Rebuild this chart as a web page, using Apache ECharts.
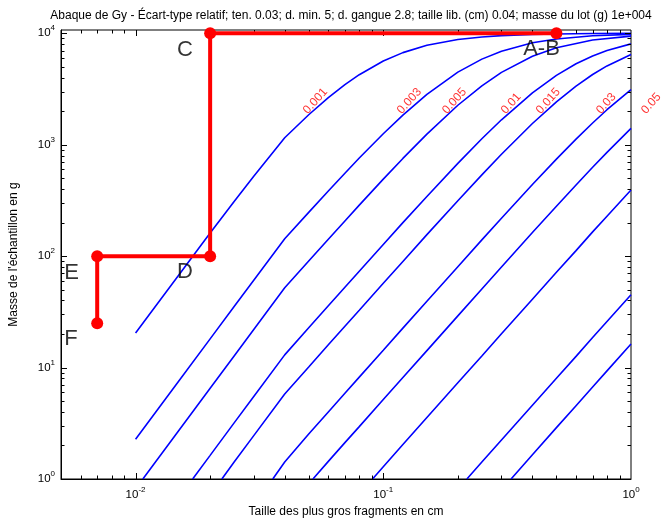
<!DOCTYPE html>
<html>
<head>
<meta charset="utf-8">
<script src="https://cdn.jsdelivr.net/npm/echarts@6/dist/echarts.min.js"></script>
<style>
html,body{margin:0;padding:0;background:#ffffff;}
#chart{width:670px;height:518px;}
</style>
</head>
<body>
<div id="chart"></div>
<script>
// ---------------- data ----------------
const chartTitle = 'Abaque de Gy - Écart-type relatif; ten. 0.03; d. min. 5; d. gangue 2.8; taille lib. (cm) 0.04; masse du lot (g) 1e+004';
const xAxisName = 'Taille des plus gros fragments en cm';
const yAxisName = "Masse de l'échantillon en g";

const sigmaLabels = ['0.001', '0.003', '0.005', '0.01', '0.015', '0.03', '0.05', '0.1', '0.3', '0.5'];

// each curve: [fragment size (cm), sample mass (g)]
const curve0001 = [[0.01,20.4],[0.015,68.4],[0.02,161],[0.025,309],[0.03,522],[0.04,1155],[0.05,1857],[0.06,2646],[0.07,3459],[0.08,4248],[0.1,5633],[0.12,6706],[0.15,7805],[0.2,8795],[0.25,9273],[0.3,9526],[0.4,9764],[0.5,9863],[0.7,9941],[1,9976]];
const curve0003 = [[0.01,2.27],[0.015,7.64],[0.02,18.1],[0.025,35.3],[0.03,60.8],[0.04,143],[0.05,247],[0.06,384],[0.07,555],[0.08,759],[0.1,1254],[0.12,1844],[0.15,2832],[0.2,4478],[0.25,5862],[0.3,6909],[0.4,8210],[0.5,8891],[0.7,9489],[1,9784]];
const curve0005 = [[0.0107,1],[0.015,2.75],[0.02,6.52],[0.025,12.7],[0.03,22.0],[0.04,52.0],[0.05,90.4],[0.06,142],[0.07,207],[0.08,287],[0.1,491],[0.12,753],[0.15,1245],[0.2,2260],[0.25,3377],[0.3,4458],[0.4,6229],[0.5,7426],[0.7,8700],[1,9423]];
const curve001  = [[0.017,1],[0.02,1.63],[0.025,3.19],[0.03,5.51],[0.04,13.0],[0.05,22.8],[0.06,35.9],[0.07,52.6],[0.08,73.3],[0.1,127],[0.12,200],[0.15,343],[0.2,680],[0.25,1131],[0.3,1674],[0.4,2922],[0.5,4190],[0.6,5322],[0.7,6258],[0.8,7002],[1,8031]];
const curve0015 = [[0.0223,1],[0.025,1.42],[0.03,2.45],[0.04,5.80],[0.05,10.1],[0.06,16.0],[0.07,23.5],[0.08,32.7],[0.1,57.0],[0.12,89.6],[0.15,156],[0.2,314],[0.25,536],[0.3,821],[0.4,1550],[0.5,2427],[0.6,3358],[0.7,4264],[0.8,5093],[1,6445]];
const curve003  = [[0.0358,1],[0.04,1.42],[0.05,2.53],[0.06,4.00],[0.07,5.88],[0.08,8.21],[0.1,14.3],[0.12,22.6],[0.15,39.4],[0.2,80.4],[0.25,140],[0.3,219],[0.4,439],[0.5,742],[0.6,1122],[0.7,1567],[0.8,2060],[1,3119]];
const curve005  = [[0.052,1],[0.06,1.44],[0.07,2.12],[0.08,2.95],[0.1,5.16],[0.12,8.14],[0.15,14.2],[0.2,29.1],[0.25,50.7],[0.3,79.8],[0.4,163],[0.5,280],[0.6,435],[0.7,627],[0.8,854],[1,1403]];
const curve01   = [[0.0905,1],[0.1,1.29],[0.12,2.04],[0.15,3.56],[0.2,7.30],[0.25,12.7],[0.3,20.1],[0.4,41.1],[0.5,71.6],[0.6,112],[0.7,165],[0.8,228],[1,392]];
const curve03   = [[0.2175,1],[0.25,1.42],[0.3,2.24],[0.4,4.59],[0.5,8.01],[0.6,12.6],[0.7,18.6],[0.8,25.9],[1,45.1]];
const curve05   = [[0.328,1],[0.4,1.65],[0.5,2.89],[0.6,4.55],[0.7,6.69],[0.8,9.34],[1,16.3]];
const curves = [curve0001, curve0003, curve0005, curve001, curve0015, curve003, curve005, curve01, curve03, curve05];

// where each curve label sits (size, mass)
const curveLabelSize = [0.0505, 0.121, 0.184, 0.318, 0.44, 0.77, 1.17];
const curveLabelMass = 1800;

// red sampling path A-B -> C -> D -> E -> F
const pathNames = ['A-B', 'C', 'D', 'E', 'F'];
const pathSize  = [0.5, 0.02, 0.02, 0.007, 0.007];
const pathMass  = [10000, 10000, 100, 100, 25];
// letter annotations (left edge, middle)
const letterSize = [0.367, 0.0147, 0.0147, 0.00515, 0.00515];
const letterMass = [7250, 7150, 72, 70, 18];

// axes
const xMin = 0.005, xMax = 1;
const yMin = 1, yMax = 10700;
const xMajorTicks = [0.01, 0.1];
const xMinorTicks = [0.006,0.007,0.008,0.009,0.02,0.03,0.04,0.05,0.06,0.07,0.08,0.09,0.2,0.3,0.4,0.5,0.6,0.7,0.8,0.9];
const yMajorTicks = [10, 100, 1000, 10000];
const yMinorTicks = [2,3,4,5,6,7,8,9,20,30,40,50,60,70,80,90,200,300,400,500,600,700,800,900,2000,3000,4000,5000,6000,7000,8000,9000];

// ---------------- chart ----------------
const FONT = '"Liberation Sans", Arial, Helvetica, sans-serif';
const MAJOR_LEN = 6, MINOR_LEN = 3.5;

function supLabel(v) {
  const e = Math.log10(v);
  const r = Math.round(e);
  if (Math.abs(e - r) > 1e-6) return '';
  return '{b|10}{s|' + r + '}';
}
const richSup = {
  b: {fontSize: 11.5, fontFamily: FONT, color: '#000', lineHeight: 18, verticalAlign: 'middle'},
  s: {fontSize: 8, fontFamily: FONT, color: '#000', lineHeight: 8, verticalAlign: 'top'}
};

const tickData = [];
xMajorTicks.forEach(v => tickData.push([v, yMin, 0, MAJOR_LEN]));
xMinorTicks.forEach(v => tickData.push([v, yMin, 0, MINOR_LEN]));
yMajorTicks.forEach(v => tickData.push([xMin, v, 1, MAJOR_LEN]));
yMinorTicks.forEach(v => tickData.push([xMin, v, 1, MINOR_LEN]));

const series = [];
curves.forEach((c, i) => {
  series.push({
    name: sigmaLabels[i], type: 'line', data: c, showSymbol: false, symbol: 'none',
    lineStyle: {color: '#0000ff', width: 1.6}, itemStyle: {color: '#0000ff'},
    silent: true, z: 2, animation: false
  });
});
series.push({
  name: 'ticks', type: 'custom', z: 3, silent: true, animation: false, clip: false,
  data: tickData,
  encode: {x: 0, y: 1},
  renderItem: function (params, api) {
    const cs = params.coordSys;
    const kind = api.value(2), len = api.value(3);
    const st = {stroke: '#000', lineWidth: 1};
    if (kind === 0) {
      const px = Math.round(api.coord([api.value(0), yMin])[0]) + 0.5;
      const yb = cs.y + cs.height, yt = cs.y;
      return {type: 'group', children: [
        {type: 'line', shape: {x1: px, y1: yb, x2: px, y2: yb - len}, style: st},
        {type: 'line', shape: {x1: px, y1: yt, x2: px, y2: yt + len}, style: st}
      ]};
    } else {
      const py = Math.round(api.coord([xMin, api.value(1)])[1]) + 0.5;
      const xl = cs.x, xr = cs.x + cs.width;
      return {type: 'group', children: [
        {type: 'line', shape: {x1: xl, y1: py, x2: xl + len, y2: py}, style: st},
        {type: 'line', shape: {x1: xr, y1: py, x2: xr - len, y2: py}, style: st}
      ]};
    }
  }
});
series.push({
  name: 'path', type: 'line', z: 6, zlevel: 0, clip: false, animation: false, silent: true,
  data: pathSize.map((d, i) => [d, pathMass[i]]),
  symbol: 'circle', symbolSize: 12, showSymbol: true,
  lineStyle: {color: '#ff0000', width: 4}, itemStyle: {color: '#ff0000', borderWidth: 0}
});
series.push({
  name: 'letters', type: 'scatter', z: 7, clip: false, animation: false, silent: true,
  symbolSize: 0,
  data: letterSize.map((d, i) => [d, letterMass[i]]),
  label: {show: true, position: [0, 0], align: 'left', verticalAlign: 'middle',
    formatter: p => pathNames[p.dataIndex], fontSize: 22, fontFamily: FONT, color: '#000'}
});
series.push({
  name: 'curveLabels', type: 'scatter', z: 7, clip: false, animation: false, silent: true,
  symbolSize: 0,
  data: curveLabelSize.map(d => [d, curveLabelMass]),
  label: {show: true, position: [0, 0], align: 'left', verticalAlign: 'bottom', rotate: 48,
    formatter: p => sigmaLabels[p.dataIndex], fontSize: 12, fontFamily: FONT, color: '#ff0000'}
});

const option = {
  backgroundColor: '#ffffff',
  animation: false,
  title: {
    text: chartTitle, left: 346, top: 5, textAlign: 'center',
    textStyle: {fontSize: 12, fontWeight: 'normal', color: '#000', fontFamily: FONT}
  },
  grid: {left: 61, right: 39, top: 30, bottom: 39, show: true, borderColor: '#000', borderWidth: 1,
    backgroundColor: 'transparent', containLabel: false, outerBoundsMode: 'none'},
  xAxis: {
    type: 'log', logBase: 10, min: xMin, max: xMax, z: 1,
    name: xAxisName, nameLocation: 'middle', nameGap: 21,
    nameTextStyle: {fontSize: 12, color: '#000', fontFamily: FONT},
    axisLine: {show: true, lineStyle: {color: '#000', width: 1}},
    axisTick: {show: false}, minorTick: {show: false},
    splitLine: {show: false}, minorSplitLine: {show: false},
    axisLabel: {margin: 7, formatter: supLabel, rich: richSup, color: '#000'}
  },
  yAxis: {
    type: 'log', logBase: 10, min: yMin, max: yMax, z: 1,
    name: yAxisName, nameLocation: 'middle', nameGap: 41, nameRotate: 90,
    nameTextStyle: {fontSize: 12, color: '#000', fontFamily: FONT},
    axisLine: {show: true, lineStyle: {color: '#000', width: 1}},
    axisTick: {show: false}, minorTick: {show: false},
    splitLine: {show: false}, minorSplitLine: {show: false},
    axisLabel: {margin: 6, formatter: supLabel, rich: richSup, color: '#000'}
  },
  series: series
};

const chart = echarts.init(document.getElementById('chart'), null, {renderer: 'canvas'});
chart.setOption(option);
</script>
</body>
</html>
